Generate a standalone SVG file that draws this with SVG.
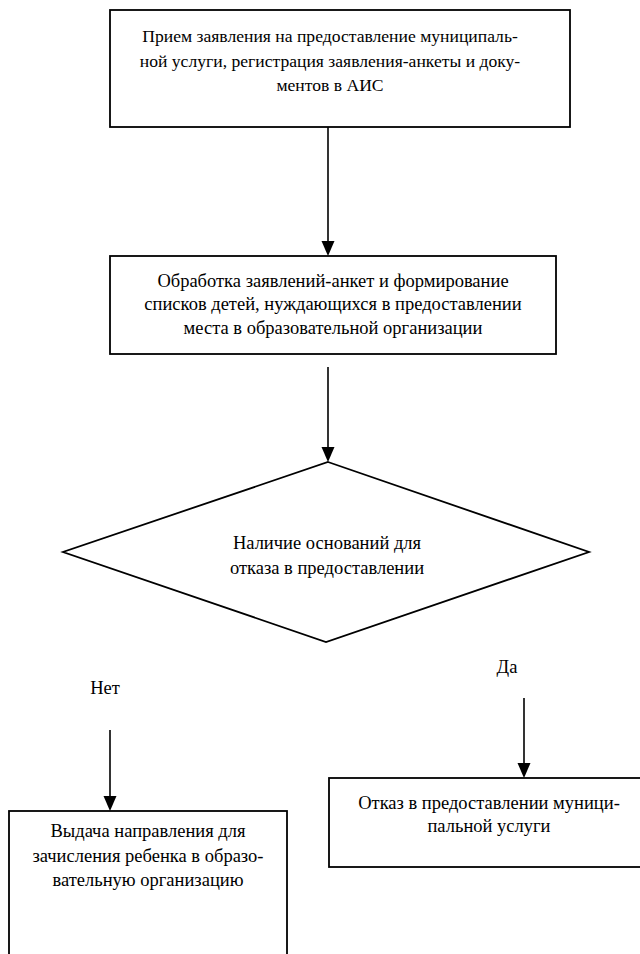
<svg xmlns="http://www.w3.org/2000/svg" width="640" height="954" viewBox="0 0 640 954">
<style>
.box{fill:#fff;stroke:#000;stroke-width:1.8}
text{font-family:'Liberation Serif','Times New Roman',serif;font-size:18.5px;fill:#000;text-anchor:middle}
.s{font-size:17.6px}
.c{stroke:#000;stroke-width:1.6;fill:none}
.ah{fill:#000}
</style>
<rect width="640" height="954" fill="#fff"/>
<g id="n1">
<rect class="box" x="110" y="10" width="460" height="117"/>
<text class="s" x="330" y="42">Прием заявления на предоставление муниципаль-</text>
<text class="s" x="330" y="67">ной услуги, регистрация заявления-анкеты и доку-</text>
<text class="s" x="330" y="91">ментов в АИС</text>
</g>
<g id="n2">
<rect class="box" x="110" y="256" width="446" height="98"/>
<text x="333" y="287">Обработка заявлений-анкет и формирование</text>
<text x="333" y="310">списков детей, нуждающихся в предоставлении</text>
<text x="333" y="334">места в образовательной организации</text>
</g>
<g id="n3">
<polygon class="box" points="328,462 589,552 326,642 63,552"/>
<text x="327" y="549">Наличие оснований для</text>
<text x="327" y="574">отказа в предоставлении</text>
</g>
<g id="lbl">
<text x="105" y="694">Нет</text>
<text x="507" y="673">Да</text>
</g>
<g id="n4">
<rect class="box" x="9" y="811" width="278" height="160"/>
<text x="148" y="837">Выдача направления для</text>
<text x="148" y="862">зачисления ребенка в образо-</text>
<text x="148" y="886">вательную организацию</text>
</g>
<g id="n5">
<rect class="box" x="329" y="778" width="320" height="89"/>
<text x="489" y="809">Отказ в предоставлении муници-</text>
<text x="489" y="832">пальной услуги</text>
</g>
<g id="connectors">
<line class="c" x1="328" y1="127" x2="328" y2="243"/>
<path class="ah" d="M321.5,241 L334.5,241 L328,256 Z"/>
<line class="c" x1="328" y1="367" x2="328" y2="449"/>
<path class="ah" d="M321.5,447 L334.5,447 L328,462 Z"/>
<line class="c" x1="110" y1="730" x2="110" y2="798"/>
<path class="ah" d="M103.5,796 L116.5,796 L110,811 Z"/>
<line class="c" x1="524" y1="698" x2="524" y2="765"/>
<path class="ah" d="M517.5,763 L530.5,763 L524,778 Z"/>
</g>
</svg>
